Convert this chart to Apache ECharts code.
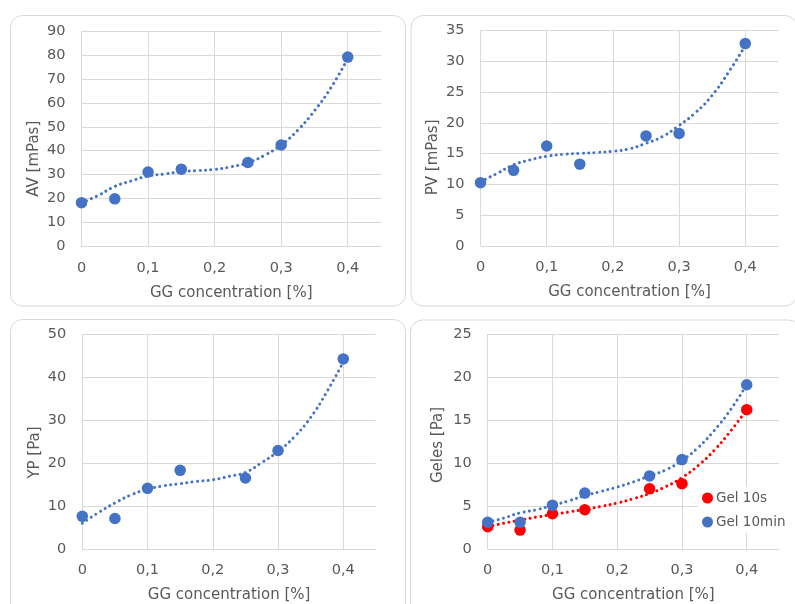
<!DOCTYPE html>
<html>
<head>
<meta charset="utf-8">
<script src="https://cdn.jsdelivr.net/npm/echarts@6/dist/echarts.min.js"></script>
<style>
html,body{margin:0;padding:0;background:#fff;}
#chart{width:795px;height:604px;}
</style>
</head>
<body>
<div id="chart"></div>
<script>
// ---- data ----
const conc = [0, 0.05, 0.1, 0.15, 0.25, 0.3, 0.4];
const av = [18.3, 19.9, 31.1, 32.3, 35.1, 42.4, 79.1];
const pv = [10.3, 12.3, 16.25, 13.3, 17.9, 18.3, 32.9];
const yp = [7.6, 7.1, 14.1, 18.3, 16.5, 22.9, 44.2];
const gel10s = [2.6, 2.2, 4.1, 4.56, 7.0, 7.6, 16.2];
const gel10min = [3.1, 3.1, 5.1, 6.5, 8.5, 10.4, 19.1];

// dotted trend lines
const trendX = [0, 0.025, 0.05, 0.075, 0.1, 0.125, 0.15, 0.175, 0.2, 0.225, 0.25, 0.275, 0.3, 0.325, 0.35, 0.375, 0.4];
const avTrend = [18.2, 21.3, 25.1, 27.4, 29.4, 30.3, 31.25, 31.7, 32.2, 33.3, 35.0, 38.1, 42.4, 48.6, 56.7, 66.4, 78.5];
const pvTrend = [10.45, 11.8, 13.2, 14.0, 14.6, 14.9, 15.06, 15.2, 15.4, 15.8, 16.7, 17.8, 19.6, 21.7, 24.5, 28.3, 32.6];
const ypTrend = [6.0, 8.5, 10.7, 12.6, 13.9, 14.7, 15.2, 15.7, 16.1, 16.9, 17.8, 20.1, 22.7, 26.1, 30.6, 36.6, 43.5];
const gel10sTrend = [2.6, 3.0, 3.35, 3.7, 4.0, 4.3, 4.6, 4.95, 5.35, 5.85, 6.45, 7.25, 8.3, 9.7, 11.5, 13.7, 16.2];
const gel10minTrend = [3.1, 3.6, 4.2, 4.56, 5.07, 5.6, 6.2, 6.7, 7.2, 7.8, 8.5, 9.2, 10.3, 11.8, 13.8, 16.2, 19.1];

const xTicks = [0, 0.1, 0.2, 0.3, 0.4];
const xName = 'GG concentration [%]';
const yNames = ['AV [mPas]', 'PV [mPas]', 'YP [Pa]', 'Geles [Pa]'];
const yMax = [90, 35, 50, 25];
const yStep = [10, 5, 10, 5];
const seriesNames = ['Gel 10s', 'Gel 10min'];

// ---- styling ----
const FONT = 'DejaVu Sans';
const TXT = '#595959';
const GRIDC = '#D9D9D9';
const BLUE = '#4472C4';
const RED = '#FF0000';

const grids = [
  {left: 81.5, top: 31, width: 299.5, height: 215.5},
  {left: 480.5, top: 30.7, width: 297.9, height: 215.3},
  {left: 82.3, top: 334, width: 293.6, height: 215.3},
  {left: 487.7, top: 334, width: 291.4, height: 215.3}
];
const yNamePad = [40, 38, 22, 7];
const yNameGap = [40, 40, 40, 42];

function pairs(xs, ys) { return xs.map((x, i) => [x, ys[i]]); }
const fmtX = v => (Math.abs(v) < 1e-9 ? '0' : v.toFixed(1).replace('.', ','));

const xAxes = grids.map((g, i) => ({
  type: 'value', gridIndex: i, min: 0, max: 0.45, interval: 0.1,
  name: xName, nameLocation: 'middle', nameGap: 39,
  nameTextStyle: {color: TXT, fontFamily: FONT, fontSize: 15},
  axisLine: {show: false}, axisTick: {show: false, customValues: xTicks},
  axisLabel: {color: TXT, fontFamily: FONT, fontSize: 14.5, margin: 14, formatter: fmtX, customValues: xTicks},
  splitLine: {show: true, lineStyle: {color: GRIDC, width: 1}}
}));
const yAxes = grids.map((g, i) => ({
  type: 'value', gridIndex: i, min: 0, max: yMax[i], interval: yStep[i],
  name: yNames[i], nameLocation: 'middle', nameGap: yNameGap[i], nameRotate: 90,
  nameTextStyle: {color: TXT, fontFamily: FONT, fontSize: 15, padding: [0, yNamePad[i], 0, 0]},
  axisLine: {show: false}, axisTick: {show: false},
  axisLabel: {color: TXT, fontFamily: FONT, fontSize: 14.5, margin: 16},
  splitLine: {show: true, lineStyle: {color: GRIDC, width: 1}}
}));

const dotted = color => ({color: color, width: 3, type: [0.01, 5.4], cap: 'round', opacity: 1});
function trend(idx, ys, color) {
  return {type: 'line', xAxisIndex: idx, yAxisIndex: idx, data: pairs(trendX, ys), smooth: true,
    showSymbol: false, symbol: 'none', lineStyle: dotted(color), silent: true, z: 2, legendHoverLink: false};
}
function pts(idx, ys, color, name) {
  const s = {type: 'scatter', xAxisIndex: idx, yAxisIndex: idx, data: pairs(conc, ys),
    symbol: 'circle', symbolSize: 11.5, itemStyle: {color: color, opacity: 1}, z: 3};
  if (name) s.name = name;
  return s;
}

const series = [
  trend(0, avTrend, BLUE), pts(0, av, BLUE),
  trend(1, pvTrend, BLUE), pts(1, pv, BLUE),
  trend(2, ypTrend, BLUE), pts(2, yp, BLUE),
  trend(3, gel10sTrend, RED), trend(3, gel10minTrend, BLUE),
  pts(3, gel10s, RED, seriesNames[0]), pts(3, gel10min, BLUE, seriesNames[1])
];

const panelRects = [
  {x: 10.5, y: 15.5, w: 395, h: 290.5},
  {x: 411, y: 15.5, w: 386, h: 290.5},
  {x: 10.5, y: 319.5, w: 395, h: 300},
  {x: 410.5, y: 320, w: 390, h: 300}
];

const chart = echarts.init(document.getElementById('chart'), null, {renderer: 'canvas'});
chart.setOption({
  backgroundColor: '#fff',
  animation: false,
  graphic: panelRects.map(r => ({
    type: 'rect', shape: {x: r.x, y: r.y, width: r.w, height: r.h, r: 12},
    style: {fill: 'none', stroke: GRIDC, lineWidth: 1}, z: -10, silent: true
  })),
  grid: grids,
  xAxis: xAxes,
  yAxis: yAxes,
  legend: {
    data: seriesNames, orient: 'vertical', left: 698, top: 487,
    padding: [3, 6, 3, 4], itemGap: 8, itemWidth: 11, itemHeight: 11,
    backgroundColor: '#fff', icon: 'circle',
    textStyle: {color: TXT, fontFamily: FONT, fontSize: 13.5, lineHeight: 16, padding: [0, 0, 0, -2]}
  },
  series: series
});
</script>
</body>
</html>
